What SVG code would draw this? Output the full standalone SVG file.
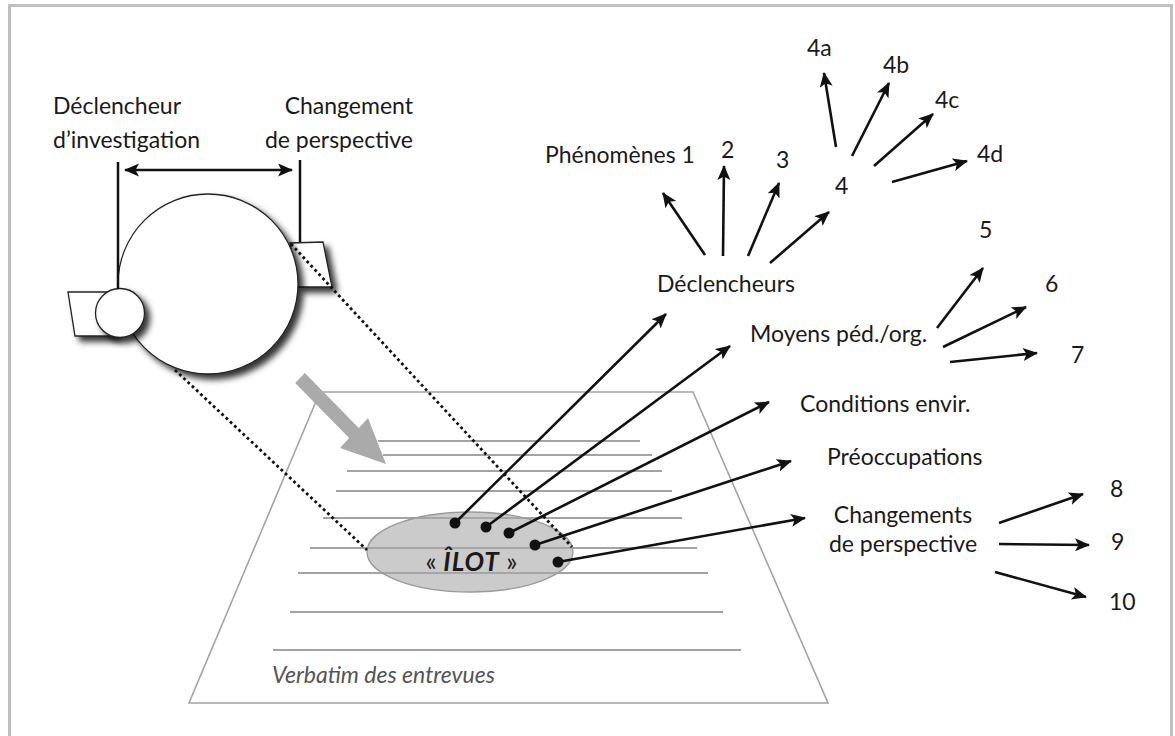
<svg xmlns="http://www.w3.org/2000/svg" width="1175" height="736" viewBox="0 0 1175 736">
<defs>
<style>
text{font-family:Lato,"Open Sans","Noto Sans",sans-serif;font-size:23px;fill:#1a1a1a}
.ln{stroke:#111;stroke-width:2.5;fill:none}
.arr{stroke:#111;stroke-width:2.6;fill:none;marker-end:url(#ah)}
.pl{stroke:#a3a3a3;stroke-width:2;fill:none}
.dot{fill:#111}
.dash{stroke:#111;stroke-width:2.8;stroke-dasharray:2.8 3;fill:none}
.shape{fill:#fff;stroke:#222;stroke-width:1.3}
</style>
<marker id="ah" markerUnits="userSpaceOnUse" markerWidth="17" markerHeight="14" refX="14" refY="6.5" orient="auto-start-reverse">
<path d="M0,0 L15,6.5 L0,13 L3.5,6.5 z" fill="#111"/>
</marker>
<filter id="sh" x="-30%" y="-30%" width="160%" height="160%">
<feDropShadow dx="5" dy="5" stdDeviation="3.2" flood-color="#000" flood-opacity="0.8"/>
</filter>
</defs>
<rect x="0" y="0" width="1175" height="736" fill="#fff"/>
<rect x="9.5" y="5.5" width="1162" height="760" fill="none" stroke="#bfbfc3" stroke-width="3"/>

<g id="paper">
<polygon points="320,392 693,392 828,703 189,703" fill="#fff" stroke="#a3a3a3" stroke-width="1.6"/>
<line class="pl" x1="378" y1="441" x2="640" y2="441"/>
<line class="pl" x1="383" y1="455" x2="652" y2="455"/>
<line class="pl" x1="347" y1="471" x2="662" y2="471"/>
<line class="pl" x1="336" y1="491" x2="672" y2="491"/>
<line class="pl" x1="323" y1="518" x2="682" y2="518"/>
<line class="pl" x1="310" y1="548" x2="697" y2="548"/>
<line class="pl" x1="298" y1="573" x2="708" y2="573"/>
<line class="pl" x1="290" y1="612" x2="723" y2="612"/>
<line class="pl" x1="273" y1="650" x2="741" y2="650"/>
<text x="272" y="683" font-style="italic" style="fill:#555">Verbatim des entrevues</text>
</g>

<g id="ilot">
<ellipse cx="470" cy="552" rx="103" ry="40" fill="#a8a8a8" fill-opacity="0.6" stroke="#9a9a9a" stroke-width="1.3"/>
<text x="471.5" y="571" text-anchor="middle" style="font-size:26px">« <tspan font-weight="bold" font-style="italic" letter-spacing="1">ÎLOT</tspan> »</text>
</g>

<g id="grey-arrow">
<polygon points="304.8,372.9 358.8,427.9 368,418 386,464 340,448 349.2,438.1 295.2,383.1" fill="#aaaaaa"/>
</g>

<g id="eye">
<polygon class="shape" points="290,243 323,242 332,287 297,287" filter="url(#sh)"/>
<polygon class="shape" points="68,292 115,292 115,336 75,336" filter="url(#sh)"/>
<circle class="shape" cx="208" cy="284" r="90" filter="url(#sh)"/>
<circle class="shape" cx="120" cy="313" r="24.5" filter="url(#sh)"/>
</g>

<g id="labels-left">
<text x="53" y="114">Déclencheur</text>
<text x="53" y="148">d’investigation</text>
<text x="413" y="114" text-anchor="end">Changement</text>
<text x="413" y="148" text-anchor="end">de perspective</text>
</g>

<g id="nodes">
<g id="n-declencheurs"><text x="657" y="292">Déclencheurs</text></g>
<g id="n-ph1"><text x="545" y="163">Phénomènes 1</text></g>
<g id="n-2"><text x="721" y="158">2</text></g>
<g id="n-3"><text x="776" y="168">3</text></g>
<g id="n-4"><text x="835" y="194">4</text></g>
<g id="n-4a"><text x="807" y="56">4a</text></g>
<g id="n-4b"><text x="883" y="73">4b</text></g>
<g id="n-4c"><text x="935" y="108">4c</text></g>
<g id="n-4d"><text x="977" y="162">4d</text></g>
<g id="n-moyens"><text x="750" y="342">Moyens péd./org.</text></g>
<g id="n-5"><text x="979" y="238">5</text></g>
<g id="n-6"><text x="1045" y="292">6</text></g>
<g id="n-7"><text x="1071" y="363">7</text></g>
<g id="n-conditions"><text x="800" y="412">Conditions envir.</text></g>
<g id="n-preocc"><text x="827" y="465">Préoccupations</text></g>
<g id="n-changements"><text x="903" y="523" text-anchor="middle">Changements</text><text x="903" y="552" text-anchor="middle">de perspective</text></g>
<g id="n-8"><text x="1110" y="497">8</text></g>
<g id="n-9"><text x="1111" y="550">9</text></g>
<g id="n-10"><text x="1109" y="610">10</text></g>
</g>

<g id="connectors">
<line class="ln" x1="118" y1="162" x2="118" y2="289"/>
<line class="ln" x1="300" y1="160" x2="300" y2="242"/>
<line class="ln" x1="125" y1="170" x2="292" y2="170" marker-start="url(#ah)" marker-end="url(#ah)"/>
<line class="dash" x1="175" y1="370" x2="367" y2="550"/>
<line class="dash" x1="291" y1="244" x2="572" y2="547"/>

<line class="arr" x1="705" y1="255" x2="663" y2="193"/>
<line class="arr" x1="723" y1="256" x2="724" y2="166"/>
<line class="arr" x1="748" y1="256" x2="779" y2="183"/>
<line class="arr" x1="770" y1="263" x2="829" y2="212"/>

<line class="arr" x1="836" y1="147" x2="824" y2="73"/>
<line class="arr" x1="852" y1="156" x2="889" y2="83"/>
<line class="arr" x1="874" y1="166" x2="933" y2="114"/>
<line class="arr" x1="892" y1="182" x2="967" y2="161"/>

<line class="arr" x1="937" y1="328" x2="983" y2="268"/>
<line class="arr" x1="943" y1="347" x2="1026" y2="307"/>
<line class="arr" x1="950" y1="362" x2="1037" y2="353"/>

<line class="arr" x1="999" y1="523" x2="1083" y2="494"/>
<line class="arr" x1="999" y1="544" x2="1089" y2="545"/>
<line class="arr" x1="995" y1="572" x2="1086" y2="597"/>

<line class="arr" x1="455" y1="523" x2="666" y2="314"/>
<line class="arr" x1="486" y1="527" x2="730" y2="346"/>
<line class="arr" x1="509" y1="533" x2="769" y2="402"/>
<line class="arr" x1="535" y1="545" x2="791" y2="461"/>
<line class="arr" x1="558" y1="562" x2="805" y2="518"/>
<circle class="dot" cx="455" cy="523" r="5.5"/>
<circle class="dot" cx="486" cy="527" r="5.5"/>
<circle class="dot" cx="509" cy="533" r="5.5"/>
<circle class="dot" cx="535" cy="545" r="5.5"/>
<circle class="dot" cx="558" cy="562" r="5.5"/>
</g>
</svg>
